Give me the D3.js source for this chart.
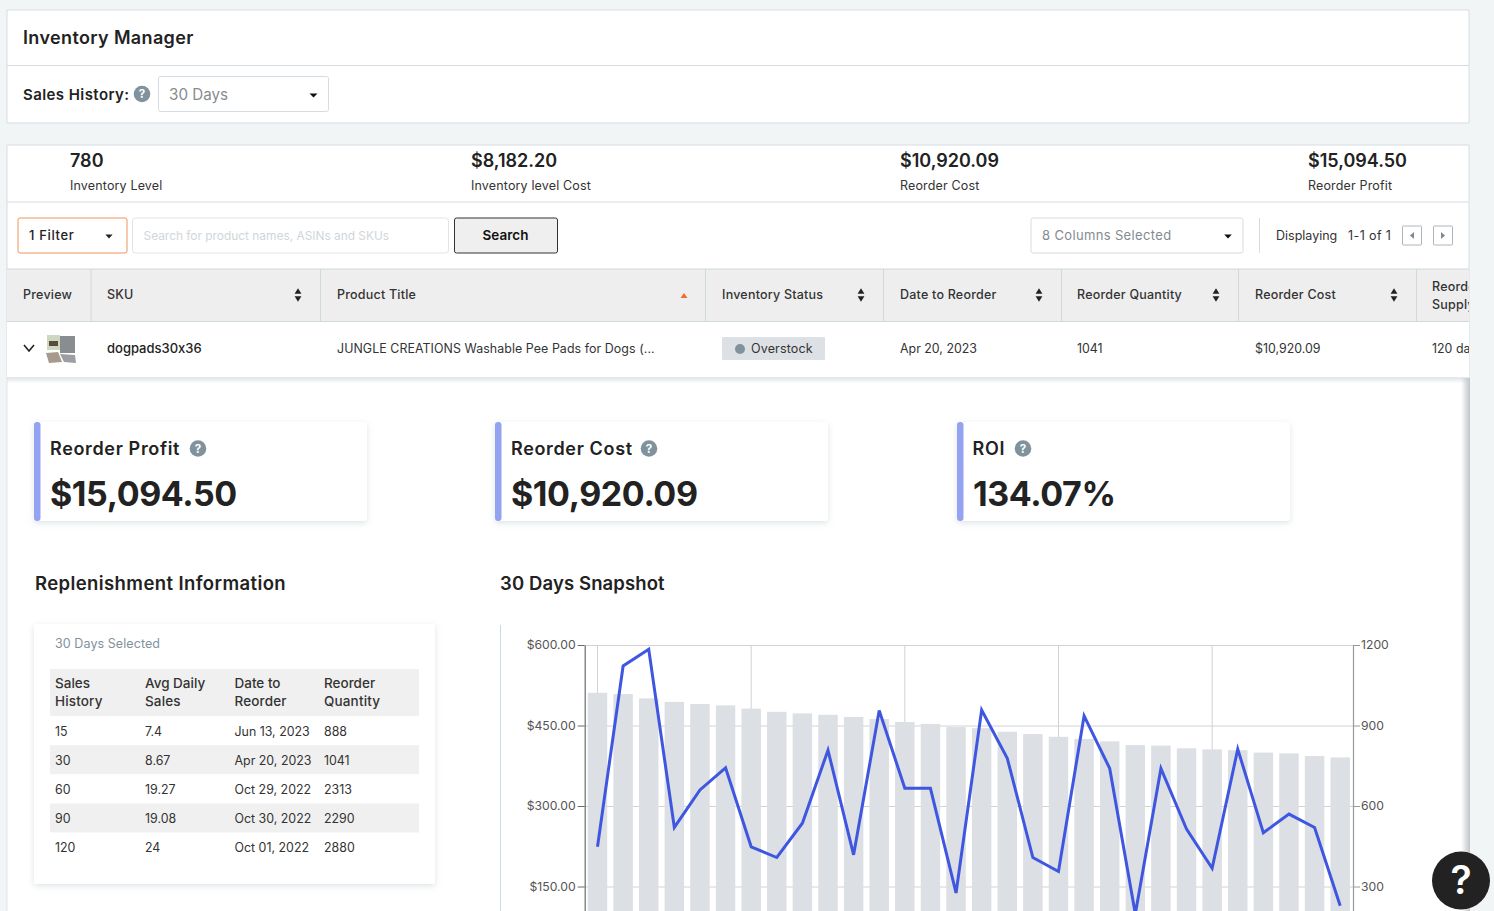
<!DOCTYPE html>
<html><head><meta charset="utf-8">
<style>html,body{margin:0;padding:0;background:#f1f5f6;overflow:hidden}svg{display:block}text{font-family:Inter,"Noto Sans",sans-serif;font-feature-settings:"calt" 0,"liga" 0}</style>
<script src="https://cdn.jsdelivr.net/npm/d3@7"></script></head><body>
<script>
// ---- chart data ----
const unitsBars = [1022,1017,1001,988,980,975,963,951,945,940,932,924,913,906,894,890,877,868,858,850,841,827,825,815,811,808,799,796,786,781];
const salesLine = [224,561,592,260,330,371,224,204,268,404,209,478,333,333,138,479,389,204,178,468,370,99,370,257,184,406,250,285,260,114];
const leftTicks = [150,300,450,600];
const rightTicks = [300,600,900,1200];
// ---- page text data ----
const statValues = ["780","$8,182.20","$10,920.09","$15,094.50"];
const statLabels = ["Inventory Level","Inventory level Cost","Reorder Cost","Reorder Profit"];
const statX = [70,471,900,1308];
const headLabels = ["Preview","SKU","Product Title","Inventory Status","Date to Reorder","Reorder Quantity","Reorder Cost"];
const headX = [23,107,337,722,900,1077,1255];
const colLines = [91,320.5,705.5,883.5,1061.5,1238.5,1416.5];
const sortX = [298,861,1039,1216,1394];
const rowCells = ["JUNGLE CREATIONS Washable Pee Pads for Dogs (...","Apr 20, 2023","1041","$10,920.09","120 days"];
const rowX = [337,900,1077,1255,1432];
const cardTitles = ["Reorder Profit","Reorder Cost","ROI"];
const cardValues = ["$15,094.50","$10,920.09","134.07%"];
const cardX = [34,495,957];
const cardHelpX = [198,649,1023];
const repHead = [["Sales","History"],["Avg Daily","Sales"],["Date to","Reorder"],["Reorder","Quantity"]];
const repHistory = ["15","30","60","90","120"];
const repAvg = ["7.4","8.67","19.27","19.08","24"];
const repDate = ["Jun 13, 2023","Apr 20, 2023","Oct 29, 2022","Oct 30, 2022","Oct 01, 2022"];
const repQty = ["888","1041","2313","2290","2880"];
const repColX = [55,145,234.5,324];

const W=1494,H=911;
const svg=d3.select("body").append("svg").attr("width",W).attr("height",H);
const defs=svg.append("defs");
const sh=defs.append("filter").attr("id","sh").attr("x","-10%").attr("y","-10%").attr("width","120%").attr("height","125%");
sh.append("feDropShadow").attr("dx",0).attr("dy",2).attr("stdDeviation",3).attr("flood-color","#8a99a5").attr("flood-opacity",.28);
const gr=defs.append("linearGradient").attr("id","edge");
gr.append("stop").attr("offset","0").attr("stop-color","#bfc5c9").attr("stop-opacity",0);
gr.append("stop").attr("offset","1").attr("stop-color","#bfc5c9").attr("stop-opacity",1);
const rowGrad=defs.append("linearGradient").attr("id","rowsh").attr("x1",0).attr("x2",0).attr("y1",0).attr("y2",1);
rowGrad.append("stop").attr("offset","0").attr("stop-color","#dfe4e7");
rowGrad.append("stop").attr("offset","1").attr("stop-color","#ffffff");
defs.append("clipPath").attr("id","tbl").append("rect").attr("x",7).attr("y",260).attr("width",1462).attr("height",130);

const rect=(p,x,y,w,h,fill,stroke,rx)=>p.append("rect").attr("x",x).attr("y",y).attr("width",w).attr("height",h).attr("fill",fill||"none").attr("stroke",stroke||"none").attr("rx",rx||0);
const line=(p,x1,y1,x2,y2,c,w)=>p.append("line").attr("x1",x1).attr("y1",y1).attr("x2",x2).attr("y2",y2).attr("stroke",c).attr("stroke-width",w||1);
const text=(p,x,y,s,size,weight,fill,anchor,ls)=>p.append("text").attr("x",x).attr("y",y).text(s).attr("font-size",size).attr("font-weight",weight||400).attr("fill",fill||"#222").attr("text-anchor",anchor||"start").attr("letter-spacing",ls||0);
const tri=(p,cx,cy,up,c,w,h)=>{w=w||4;h=h||4;p.append("path").attr("d",up?`M${cx-w},${cy+h/2}L${cx+w},${cy+h/2}L${cx},${cy-h/2}Z`:`M${cx-w},${cy-h/2}L${cx+w},${cy-h/2}L${cx},${cy+h/2}Z`).attr("fill",c);};
const help=(p,cx,cy)=>{p.append("circle").attr("cx",cx).attr("cy",cy).attr("r",8.3).attr("fill","#7f929e");text(p,cx,cy+4,"?",11.5,700,"#fff","middle");};
const border="#d5dde2";

// top panel
rect(svg,7,10,1462,113,"#fff",border);
line(svg,7,65.5,1469,65.5,border);
text(svg,23,44,"Inventory Manager",18,600,"#222","start",.36);
text(svg,23,100,"Sales History:",15,600,"#222","start",.42);
help(svg,142,94);
rect(svg,158.5,76.5,170,35,"#fff",border,2);
text(svg,169,100,"30 Days",15.2,400,"#868c90");
tri(svg,313.5,95.5,false,"#111",4,4);

// stats + table panel
rect(svg,7,145,1462,233,"#fff",border);
line(svg,7,202,1469,202,border);
statValues.forEach((s,i)=>{text(svg,statX[i],167,s,18,600);text(svg,statX[i],190,statLabels[i],12.5,400,"#333","start",.15);});

rect(svg,18,218,109,35,"#fff","#f0935f",2);
text(svg,29,240,"1 Filter",13,500,"#222","start",.65);
tri(svg,109,236.5,false,"#222",3.6,4);
rect(svg,132.5,218,316,35,"#fff","#dfe5e8",3);
text(svg,143.5,240,"Search for product names, ASINs and SKUs",11.9,400,"#d0d6da");
rect(svg,454.5,218,103,35,"#efefef","#333",2);
text(svg,505.5,240,"Search",13.5,600,"#111","middle");
rect(svg,1031,218,212,35,"#fff",border,2);
text(svg,1042,240,"8 Columns Selected",13,400,"#848a8f","start",.35);
tri(svg,1228,236.5,false,"#111",3.8,4);
line(svg,1259.5,218,1259.5,253,border);
text(svg,1276,240,"Displaying",12.5,400,"#333");
text(svg,1348,240,"1-1 of 1",12.5,400,"#333","start",.4);
rect(svg,1402.5,226,19,19,"#fff","#aeb6ba",1);
svg.append("path").attr("d","M1414,232L1410,235.5L1414,239Z").attr("fill","#7f8a90");
rect(svg,1433.5,226,19,19,"#fff","#aeb6ba",1);
svg.append("path").attr("d","M1441,232L1445,235.5L1441,239Z").attr("fill","#7f8a90");

// SKU table
const t=svg.append("g").attr("clip-path","url(#tbl)");
rect(t,7,269,1463,52,"#eeeeee");
line(t,7,269,1470,269,"#cfd8dc");line(t,7,321.5,1470,321.5,"#cfd8dc");
colLines.forEach(x=>line(t,x,269,x,321,"#cfd8dc"));
headLabels.forEach((s,i)=>text(t,headX[i],299,s,12.5,500,"#333","start",.22));
text(t,1432,291,"Reorder",12.5,500,"#333","start",.22);text(t,1432,309,"Supply",12.5,500,"#333","start",.22);
sortX.forEach(x=>{tri(t,x,291,true,"#222",3.4,5.5);tri(t,x,299,false,"#222",3.4,5.5);});
tri(t,684,295.5,true,"#f26b2e",3.5,5);
rect(t,7,322,1463,55,"#fff");
t.append("path").attr("d","M24,345L29,351L34,345").attr("fill","none").attr("stroke","#222").attr("stroke-width",1.6);
text(t,107,353,"dogpads30x36",13,500,"#222");
rowCells.forEach((s,i)=>text(t,rowX[i],353,s,12.4,400,"#333","start",i==0?.07:0));
rect(t,722,337,103,23,"#dde1e5",null,1);
t.append("circle").attr("cx",740).attr("cy",349).attr("r",5).attr("fill","#7f929e");
text(t,751,353,"Overstock",12.5,400,"#333","start",.15);
// preview thumbnail
const th=t.append("g");
rect(th,47,335,13,15,"#cdd8c0");rect(th,49,341,9,5,"#5b4a3c");rect(th,60,336,15,17,"#8a8d8f");
th.append("path").attr("d","M46,353L58,352L62,362L49,363Z").attr("fill","#a69a8d");
th.append("path").attr("d","M60,354L75,355L76,363L64,362Z").attr("fill","#9b9fa3");

// detail panel
rect(svg,7,378,1462,533,"#fff");
rect(svg,7,377.5,1462,6,"url(#rowsh)");
line(svg,7,378,7,911,"#dde5ea");
rect(svg,1461,378,9,533,"url(#edge)");

// cards
cardX.forEach((x,i)=>{
  rect(svg,x,422,333,99,"#fff",null,3).attr("filter","url(#sh)");
  rect(svg,x,422,6.5,99,"#93a3f1",null,3);
  text(svg,x+(i==2?15.5:16),455,cardTitles[i],18,600,"#222","start",.65);
  help(svg,cardHelpX[i],448.5);
  text(svg,x+16,506,cardValues[i],34,700,"#222","start",-.4);
});
text(svg,35,590,"Replenishment Information",18.5,600,"#222","start",.4);
text(svg,500,590,"30 Days Snapshot",18.5,600,"#222","start",.12);

// replenishment card
rect(svg,34,624,401,260,"#fff",null,1).attr("filter","url(#sh)");
text(svg,55,648,"30 Days Selected",12.5,400,"#7f929e","start",.08);
rect(svg,50,669,369,47,"#f0f0f0");
repHead.forEach((h,i)=>{text(svg,repColX[i],687.5,h[0],13.5,500,"#333");text(svg,repColX[i],706,h[1],13.5,500,"#333","start",.15);});
repHistory.forEach((_,r)=>{
  const y=735.5+29.15*r;
  if(r%2==1) rect(svg,50,y-19.5,369,29,"#f0f0f0");
  [repHistory,repAvg,repDate,repQty].forEach((col,c)=>text(svg,repColX[c],y,col[r],12.4,400,"#333"));
});

// ---- the chart ----
line(svg,500.5,625,500.5,911,"#c9d9e5");
const yTop=645,yBot=967,xLeft=584.7,xRight=1353;
const x=d3.scaleBand().domain(d3.range(unitsBars.length)).range([xLeft,xRight]).paddingInner(.24).paddingOuter(.12);
const yL=d3.scaleLinear().domain([0,600]).range([yBot,yTop]);
const yR=d3.scaleLinear().domain([0,1200]).range([yBot,yTop]);
const chart=svg.append("g");
// grid
chart.append("g").selectAll("line").data(leftTicks).join("line")
  .attr("x1",xLeft).attr("x2",xRight).attr("y1",d=>yL(d)+.5).attr("y2",d=>yL(d)+.5).attr("stroke","#d0d2d4");
chart.append("g").selectAll("line").data(x.domain().filter(d=>d%6==0)).join("line")
  .attr("x1",d=>x(d)+x.bandwidth()/2).attr("x2",d=>x(d)+x.bandwidth()/2).attr("y1",yTop).attr("y2",yBot).attr("stroke","#d0d2d4");
// bars
chart.append("g").selectAll("rect").data(unitsBars).join("rect")
  .attr("x",(d,i)=>x(i)).attr("y",d=>yR(d)).attr("width",x.bandwidth()).attr("height",d=>yBot-yR(d)).attr("fill","#dcdfe3");
// axes
const styleAxis=(g,c)=>{g.select(".domain").attr("stroke",c).attr("stroke-width",1.2);g.selectAll(".tick line").attr("stroke",c);g.selectAll(".tick text").attr("fill","#555").attr("font-size",12.2).style("font-family","Inter,sans-serif");};
chart.append("g").attr("transform",`translate(${xLeft},0)`)
  .call(d3.axisLeft(yL).tickValues(leftTicks).tickSize(7).tickSizeOuter(0).tickPadding(2).tickFormat(d=>"$"+d3.format(".2f")(d))).call(g=>styleAxis(g,"#6b6b6b"));
chart.append("g").attr("transform",`translate(${xRight},0)`)
  .call(d3.axisRight(yR).tickValues(rightTicks).tickSize(7).tickSizeOuter(0).tickPadding(1).tickFormat(d3.format("d"))).call(g=>styleAxis(g,"#9a9a9a"));
// line
chart.append("path").datum(salesLine)
  .attr("d",d3.line().x((d,i)=>x(i)+x.bandwidth()/2).y(d=>yL(d)))
  .attr("fill","none").attr("stroke","#3f57e0").attr("stroke-width",3).attr("stroke-linejoin","miter");

// help bubble
svg.append("circle").attr("cx",1461).attr("cy",880.5).attr("r",29).attr("fill","#222");
text(svg,1461,894,"?",39,600,"#fff","middle");
</script>
</body></html>
